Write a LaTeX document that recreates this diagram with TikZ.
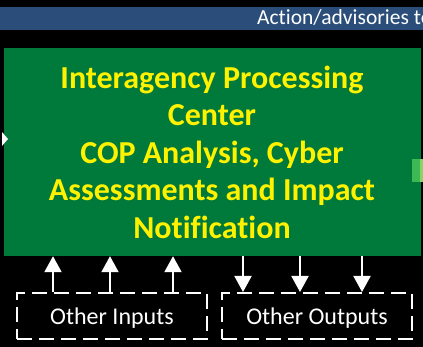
\documentclass[tikz,border=0pt]{standalone}
\usepackage{fontspec}
\setmainfont{Carlito}[Ligatures={NoCommon}]
\usepackage{tikz}
\usetikzlibrary{arrows.meta}
\definecolor{ipcgreen}{RGB}{0,122,58}
\definecolor{bandblue}{RGB}{42,78,121}
\definecolor{edgegreen}{RGB}{60,185,82}
\definecolor{paleedge}{RGB}{140,210,105}
\tikzstyle{ipcbox} = [rectangle, 
minimum width=417pt, 
minimum height=208pt,
inner sep=0pt,
text centered, 
align=center,
fill=ipcgreen,
text=yellow,
font=\fontsize{32}{37.5}\selectfont\bfseries]
\tikzstyle{band} = [rectangle, 
minimum width=423pt, 
minimum height=23pt, 
inner sep=0pt, 
fill=bandblue]
\tikzstyle{bandtext} = [anchor=base west, 
inner sep=0pt, 
text=white, 
font=\fontsize{21.5}{24}\selectfont]
\tikzstyle{extbox} = [rectangle, 
minimum width=190pt, 
minimum height=46pt, 
text height=18pt, 
text depth=0pt, 
text centered, 
draw=white, 
line width=2pt, 
dash pattern=on 15pt off 7pt, 
text=white, 
font=\fontsize{24}{28}\selectfont]
\tikzstyle{arrow} = [white, line width=2pt, -{Triangle[width=17pt,length=16pt]}]

\begin{document}
\begin{tikzpicture}[x=1pt, y=-1pt]

\clip (0,0) rectangle (423,347);
\fill [black] (0,0) rectangle (423,347);

\node (band) [band] at (211.5,18.5) {};
\node (action) [bandtext] at (257,25) {Action/advisories to};

\node (ipc) [ipcbox] at (212,152) {Interagency Processing\\Center\\COP Analysis, Cyber\\Assessments and Impact\\Notification};
\fill [edgegreen] (412,159) rectangle (420,182);
\fill [paleedge] (420,159) rectangle (423,182);
\fill [white] (2,132) -- (8,139) -- (2,146) -- cycle;

\node (inputs) [extbox] at (112,316) {Other Inputs};
\node (outputs) [extbox] at (317,316) {Other Outputs};

\draw [arrow] (53,0 |- inputs.north) -- (53,0 |- ipc.south);
\draw [arrow] (110,0 |- inputs.north) -- (110,0 |- ipc.south);
\draw [arrow] (173,0 |- inputs.north) -- (173,0 |- ipc.south);
\draw [arrow] (243,0 |- ipc.south) -- (243,0 |- outputs.north);
\draw [arrow] (300,0 |- ipc.south) -- (300,0 |- outputs.north);
\draw [arrow] (362,0 |- ipc.south) -- (362,0 |- outputs.north);

\end{tikzpicture}
\end{document}
